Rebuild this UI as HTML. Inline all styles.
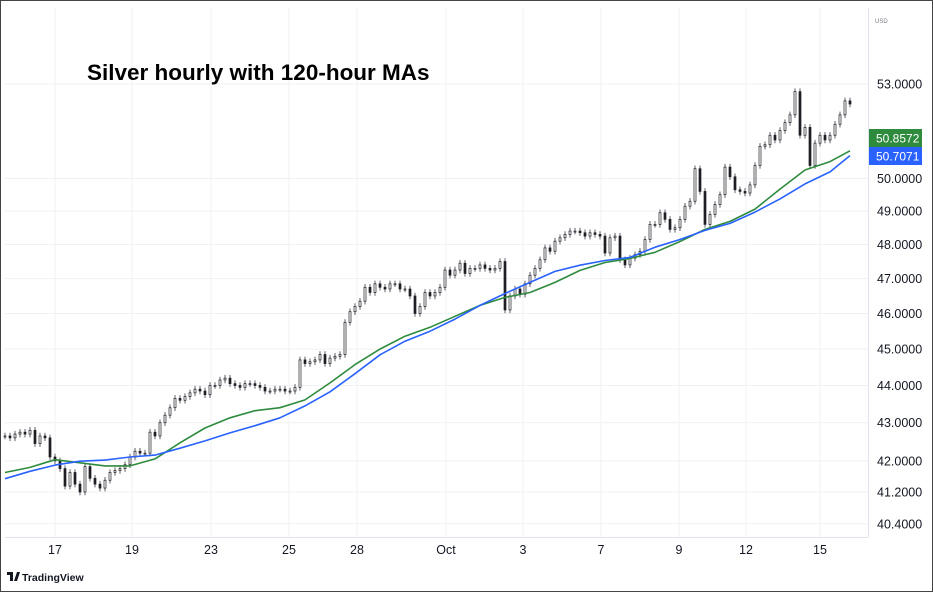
<!DOCTYPE html>
<html><head><meta charset="utf-8">
<style>
html,body{margin:0;padding:0;background:#fff;}
body{width:933px;height:592px;overflow:hidden;font-family:"Liberation Sans",sans-serif;}
#frame{position:absolute;left:0;top:0;width:931px;height:590px;border:1px solid #444;}
svg{position:absolute;left:0;top:0;}
</style></head>
<body>
<div id="frame"></div>
<svg id="chart" width="933" height="592"></svg>
<script>
const closes=[42.65,42.6,42.7,42.75,42.7,42.8,42.45,42.65,42.6,42.1,42.0,41.8,41.35,41.7,41.4,41.2,41.85,41.55,41.4,41.3,
41.5,41.7,41.75,41.8,41.9,42.1,42.25,42.2,42.2,42.75,42.65,43.0,43.2,43.4,43.65,43.6,43.7,43.8,43.9,43.85,
43.75,44.0,44.0,44.15,44.2,44.05,44.0,43.95,44.05,44.05,44.0,43.95,43.85,43.85,43.9,43.9,43.85,43.85,43.95,44.7,
44.6,44.65,44.7,44.85,44.6,44.75,44.8,44.85,45.75,46.05,46.2,46.35,46.75,46.6,46.85,46.75,46.7,46.85,46.85,46.7,
46.7,46.5,46.0,46.2,46.6,46.5,46.6,46.75,47.25,47.1,47.25,47.45,47.15,47.3,47.3,47.4,47.3,47.25,47.3,47.5,
46.1,46.5,46.7,46.55,46.85,47.1,47.3,47.55,47.9,47.8,48.1,48.2,48.3,48.4,48.4,48.35,48.25,48.35,48.3,48.25,
47.75,48.2,48.25,47.55,47.4,47.6,47.7,47.8,48.15,48.6,48.6,48.95,48.75,48.45,48.5,48.75,49.15,49.3,50.3,49.6,
48.6,48.9,49.2,49.5,50.35,50.05,49.65,49.6,49.55,49.8,50.4,51.0,51.05,51.35,51.2,51.5,51.75,52.0,52.75,51.35,
51.6,50.4,51.1,51.35,51.2,51.35,51.7,52.0,52.45,52.35];
const maIndex=[0,5,10,15,20,25,30,35,40,45,50,55,60,65,70,75,80,85,90,95,100,105,110,115,120,125,130,135,140,145,150,155,160,165,169];
const maGreen=[41.70,41.83,42.03,41.95,41.87,41.87,42.05,42.47,42.86,43.13,43.32,43.40,43.61,44.07,44.57,45.0,45.36,45.61,45.92,46.23,46.46,46.60,46.89,47.24,47.47,47.59,47.77,48.09,48.45,48.69,49.06,49.67,50.26,50.52,50.86];
const maBlue=[41.54,41.73,41.89,41.99,42.02,42.10,42.15,42.33,42.52,42.73,42.92,43.13,43.45,43.83,44.32,44.84,45.22,45.50,45.84,46.23,46.57,46.89,47.21,47.39,47.53,47.62,47.92,48.15,48.42,48.63,48.97,49.37,49.83,50.20,50.71];
const yTicks=[53,50,49,48,47,46,45,44,43,42,41.2,40.4];
const yTickLabels=["53.0000","50.0000","49.0000","48.0000","47.0000","46.0000","45.0000","44.0000","43.0000","42.0000","41.2000","40.4000"];
const xTickIdx=[10,25.4,41.2,56.8,70.4,88.2,103.6,119.2,134.8,148.2,163];
const xTickLabels=["17","19","23","25","28","Oct","3","7","9","12","15"];
const lastGreen="50.8572", lastBlue="50.7071";

const NS="http://www.w3.org/2000/svg";
const svg=document.getElementById('chart');
function mk(tag,attrs,parent){const e=document.createElementNS(NS,tag);for(const k in attrs)e.setAttribute(k,attrs[k]);(parent||svg).appendChild(e);return e;}
const X=i=>5+i*5;
const Y=v=>84+(Math.log(53)-Math.log(v))*1620;

const grid=mk('g',{});


yTicks.forEach(v=>{const l=mk('line',{x1:5,x2:868,y1:Y(v),y2:Y(v),stroke:'#f0f1f4','stroke-width':1},grid);

});
xTickIdx.forEach(i=>{const l=mk('line',{x1:X(i),x2:X(i),y1:8,y2:537,stroke:'#f0f1f4','stroke-width':1},grid);

});

const ax=mk('line',{x1:868.5,x2:868.5,y1:8,y2:537,stroke:'#e0e3eb'});


const bx=mk('line',{x1:5,x2:868,y1:537.5,y2:537.5,stroke:'#e0e3eb'});



const cg=mk('g',{});


closes.forEach((c,i)=>{
  const o=i>0?closes[i-1]:c;
  const hi=Math.max(o,c)*1.002, lo=Math.min(o,c)*0.998;
  const x=X(i);
  const w=mk('line',{x1:x,x2:x,y1:Y(hi),y2:Y(lo),stroke:'#5d606b','stroke-width':1},cg);
  
  
  const yt=Math.min(Y(o),Y(c)),yb=Math.max(Y(o),Y(c));
  const b=mk('rect',{x:x-1,y:yt,width:2,height:Math.max(1,yb-yt),fill:c>=o?'#ffffff':'#1e1f24',stroke:'#1e1f24','stroke-width':0.7},cg);
  
  
});

function maPath(arr,color,name){
  const d=arr.map((v,k)=>(k?'L':'M')+X(maIndex[k]).toFixed(1)+','+Y(v).toFixed(1)).join('');
  const p=mk('path',{d:d,fill:'none',stroke:color,'stroke-width':1.6,'stroke-linejoin':'round'});
  
  
}
maPath(maGreen,'#2e8b3e','ma-green-line');
maPath(maBlue,'#2962ff','ma-blue-line');

yTicks.forEach((v,k)=>{const t=mk('text',{x:877,y:Y(v)+4.5,'font-size':12.5,fill:'#131722','font-family':'Liberation Sans, sans-serif'});
t.textContent=yTickLabels[k];

});
xTickIdx.forEach((i,k)=>{const t=mk('text',{x:X(i),y:554,'font-size':12.5,fill:'#131722','text-anchor':'middle','font-family':'Liberation Sans, sans-serif'});
t.textContent=xTickLabels[k];

});

function box(y,color,txt,name){
  const g=mk('g',{});
  
  
  mk('rect',{x:869,y:y,width:53,height:18,fill:color},g);
  const t=mk('text',{x:876,y:y+13.5,'font-size':12,fill:'#fff','font-family':'Liberation Sans, sans-serif'},g);
  t.textContent=txt;
}
box(129,'#2e8b3e',lastGreen,'last-value-green');
box(147,'#2962ff',lastBlue,'last-value-blue');

const cur=mk('text',{x:875,y:23,'font-size':6,fill:'#787b86'});
cur.textContent='USD';



const title=mk('text',{x:87,y:80,'font-size':22.5,'font-weight':'bold',fill:'#000','font-family':'Liberation Sans, sans-serif'});
title.textContent='Silver hourly with 120-hour MAs';



const lg=mk('g',{});


mk('path',{d:'M7 572h6v9h-3v-6H7z M14 581l3-9h3l-3 9z',fill:'#131722'},lg);
const lt=mk('text',{x:22,y:581,'font-size':10.5,'font-weight':'bold',fill:'#131722'},lg);
lt.textContent='TradingView';
</script>
</body></html>
